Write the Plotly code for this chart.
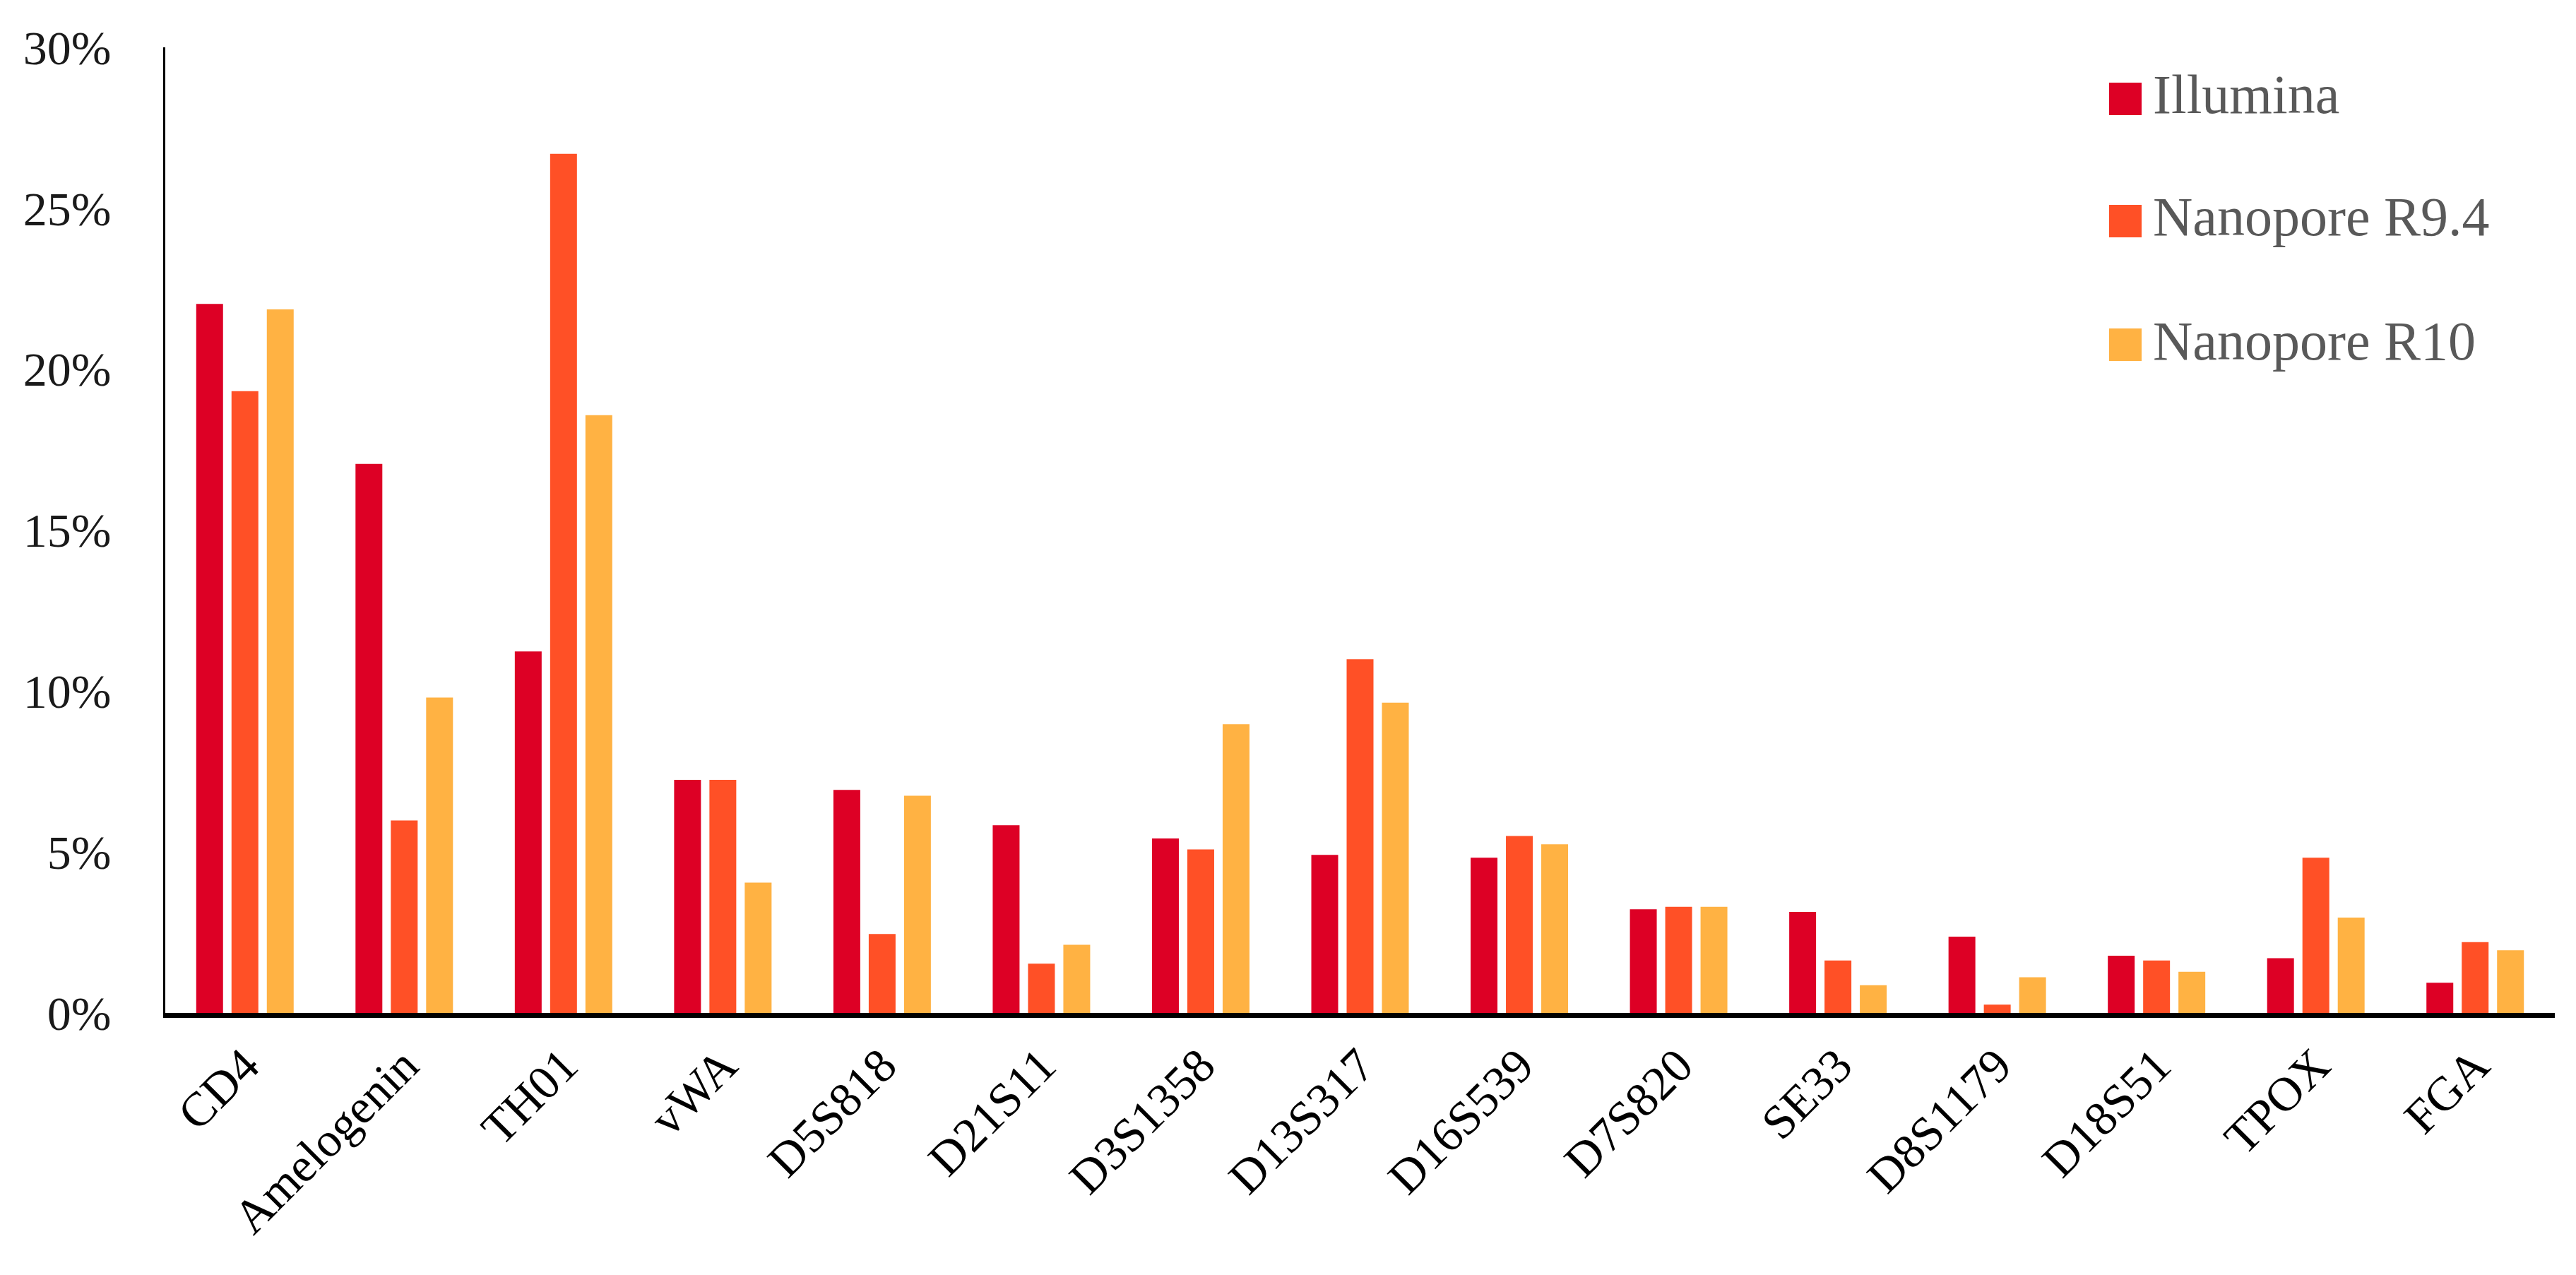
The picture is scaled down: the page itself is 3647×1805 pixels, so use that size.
import plotly.graph_objects as go

categories = ["CD4", "Amelogenin", "TH01", "vWA", "D5S818", "D21S11", "D3S1358",
              "D13S317", "D16S539", "D7S820", "SE33", "D8S1179", "D18S51", "TPOX", "FGA"]
series_names = ["Illumina", "Nanopore R9.4", "Nanopore R10"]
illumina = [0.2203, 0.1706, 0.1123, 0.0724, 0.0693, 0.0583, 0.0542, 0.0491, 0.0482,
            0.0322, 0.0314, 0.0237, 0.0178, 0.0170, 0.0094]
nanopore_r94 = [0.1932, 0.0598, 0.2669, 0.0724, 0.0245, 0.0153, 0.0508, 0.1099, 0.0550,
                0.0330, 0.0163, 0.0026, 0.0163, 0.0482, 0.0220]
nanopore_r10 = [0.2186, 0.0980, 0.1857, 0.0405, 0.0675, 0.0212, 0.0897, 0.0964, 0.0524,
                0.0330, 0.0086, 0.0111, 0.0128, 0.0296, 0.0195]
colors = ["#DD0025", "#FF5026", "#FFB243"]
y_ticks = [0, 0.05, 0.10, 0.15, 0.20, 0.25, 0.30]

W, H = 3647, 1805
L, R, T, B = 226, 38, 59, 379
FONT = "Liberation Serif, Times New Roman, serif"

fig = go.Figure()
for name, vals, col in zip(series_names, [illumina, nanopore_r94, nanopore_r10], colors):
    fig.add_trace(go.Bar(x=categories, y=vals, name=name, marker=dict(color=col, line=dict(width=0)),
                         showlegend=False))

# manual legend (large square swatches)
pw, ph = W - L - R, H - T - B
def px(xp):
    return (xp - L) / pw
def py(yp):
    return (H - B - yp) / ph

legend_y = [132, 305, 480]
shapes, annotations = [], []
for name, col, yc in zip(series_names, colors, legend_y):
    shapes.append(dict(type="rect", xref="paper", yref="paper",
                       x0=px(2978), x1=px(3024), y0=py(yc + 23), y1=py(yc - 23),
                       fillcolor=col, line=dict(width=0)))
    annotations.append(dict(xref="paper", yref="paper", x=px(3038), y=py(yc - 6),
                            xanchor="left", yanchor="middle", text=name, showarrow=False,
                            font=dict(family=FONT, size=78, color="#595959")))

fig.update_layout(
    width=W, height=H,
    margin=dict(l=L, r=R, t=T, b=B),
    paper_bgcolor="white", plot_bgcolor="white",
    barmode="group", bargap=0.335, bargroupgap=0.24,
    shapes=shapes, annotations=annotations,
    font=dict(family=FONT, size=68, color="#000000"),
)
fig.update_xaxes(type="category", showline=True, linewidth=7, linecolor="black",
                 showgrid=False, ticks="", tickangle=-45,
                 tickfont=dict(family=FONT, size=68, color="black"))
fig.update_yaxes(range=[0, 0.30], tickvals=y_ticks, tickformat=".0%", showline=True,
                 linewidth=3, linecolor="black", showgrid=False, zeroline=False, ticks="",
                 ticklabelstandoff=60,
                 tickfont=dict(family=FONT, size=68, color="#1a1a1a"))

fig.write_html("out.html")
